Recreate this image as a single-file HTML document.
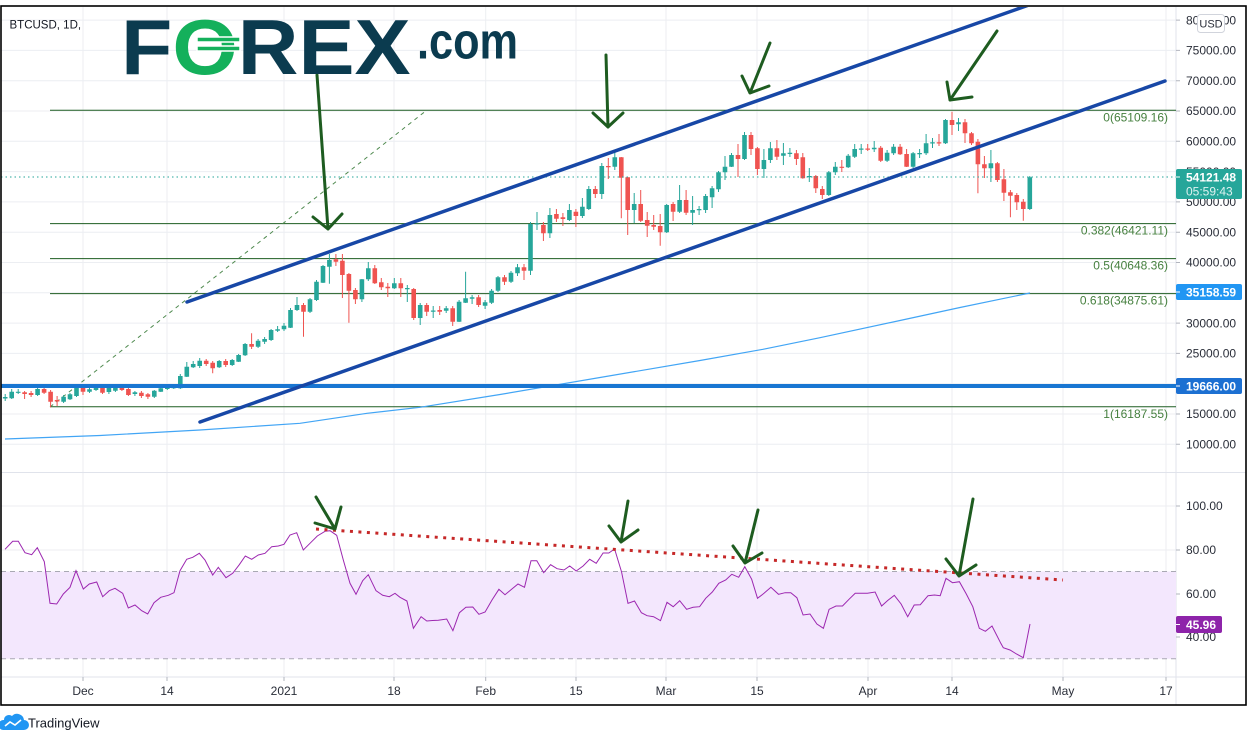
<!DOCTYPE html>
<html><head><meta charset="utf-8"><style>
html,body{margin:0;padding:0;background:#fff;}
svg{display:block;font-family:"Liberation Sans",sans-serif;}
</style></head><body>
<svg width="1253" height="742" viewBox="0 0 1253 742" xmlns="http://www.w3.org/2000/svg">
<defs><clipPath id="mp"><rect x="1" y="7" width="1175" height="465"/></clipPath>
<clipPath id="rp"><rect x="1" y="473" width="1175" height="204"/></clipPath></defs>
<rect width="1253" height="742" fill="#fff"/>
<g stroke="#eceef2" stroke-width="1">
<path d="M83,7V677M167,7V677M284,7V677M394,7V677M485.7,7V677M576,7V677M666,7V677M757,7V677M868,7V677M952,7V677M1063,7V677M1166,7V677"/>
<path d="M1,20.1H1176M1,50.4H1176M1,80.7H1176M1,111H1176M1,141.3H1176M1,171.6H1176M1,201.9H1176M1,232.2H1176M1,262.5H1176M1,292.8H1176M1,323.1H1176M1,353.4H1176M1,383.7H1176M1,414H1176M1,444.3H1176"/>
<path d="M1,506H1176M1,550H1176M1,594H1176M1,637H1176"/>
</g>
<g stroke="#e0e3eb" stroke-width="1">
<path d="M1,472.5H1246M1,677H1246M1176,7V705"/>
</g>
<rect x="1" y="571.5" width="1175" height="87.3" fill="#f3e7fd"/>
<path d="M1,571.5H1176M1,658.8H1176" stroke="#a9a9b3" stroke-width="1" stroke-dasharray="5,4"/>

<g clip-path="url(#mp)">
<g stroke="#1f5e22" stroke-width="1">
<path d="M50,110.3H1176M50,223.6H1176M50,258.6H1176M50,293.6H1176M50,406.8H1176"/>
</g>
<path d="M50,407L427,110" stroke="#4f8a4f" stroke-width="1" stroke-dasharray="4,4" fill="none"/>
<polyline points="5,439 100,435.5 200,430 300,423.3 367,413.3 420,407.3 500,394.5 600,377.5 700,360.5 763,349.3 820,337.7 900,320.5 960,307.5 1030,293" fill="none" stroke="#42a5f5" stroke-width="1.2"/>
<!-- candle wicks -->
<path stroke="#26a69a" stroke-width="1" fill="none" d="M5.2,394V401M11.7,389V399M18.2,389V394M37.6,388V396M63.6,395V403M70,393V400M76.5,384V397M89.5,388V393M96,385V391M108.9,386V394M115.4,386V392M134.9,391V396M154.3,390V398M160.8,388V392M167.3,386V390M173.8,385V389M180.3,374V389M186.8,362V377M193.2,361V368M199.7,358V368M219.2,360V368M232.2,359V366M238.6,354V362M245.1,343V356M258.1,339V348M264.6,337V344M271.1,329V341M277.6,326V332M284,323V331M290.5,308V328M297,297V311M310,298V313M316.5,280V301M323,265V283M329.4,254V283.7M361.9,279V302M368.3,262V281M394.3,278V289M407.3,285V302M420.2,303V325M433.2,306V318M446.2,306V313M459.1,300V322M465.6,271.7V303M472.1,295V304M485.1,300V309M491.6,289V304M498,276V292M511,271V283M517.5,264V276M530.5,222V275M537,212V230M549.9,208V238M569.4,204V221M582.4,198V218M588.8,186V210M601.8,163V199M614.8,152V170M634.2,193V223M666.7,204V233M679.6,185V213M692.6,196V225M699.1,206V215M705.6,194V213M712.1,186V208M718.5,171V192M725,156V180M731.5,153V167M744.5,132V160M763.9,149V178M770.4,142V163M783.4,143V165M789.9,148V157M809.3,168V182M828.8,171V196M835.3,162V175M848.2,154V168M854.7,144V158M861.2,144V154M874.2,141V152M887.1,150V162M893.6,144V155M913.1,152V168M919.6,149V158M926.1,134V155M932.5,138V148M945.5,119V144M958.5,118V131M990.9,150V182M1029.8,176V210"/>
<path stroke="#ef5350" stroke-width="1" fill="none" d="M24.6,391V399M31.1,391V397M44.1,387.5V394M50.6,390V407.3M57.1,396V406M83,384V395M102.5,386V394M121.9,386V391M128.4,387V396M141.4,391V398M147.9,393V399M206.2,359V366M212.7,361V373.3M225.7,359V367M251.6,333.3V349M303.5,303V336.7M335.9,254V266M342.4,254V298M348.9,273V322.7M355.4,288V304M374.8,265V284M381.3,278V290M387.8,283V297M400.8,278V297M413.7,288V320M426.7,303V316M439.7,306V315M452.7,306V326M478.6,295V307M504.5,275V285M524,264V280M543.4,222V241M556.4,209V222M562.9,213V226M575.9,209V227M595.3,186V198M608.3,158V179M621.3,157V218.3M627.7,177V235M640.7,190V222M647.2,212V237M653.7,215V230M660.2,214V245.7M673.1,202V221M686.1,190V215M738,144V177M751,132V155M757.4,147V175M776.9,140V160M796.4,150V165M802.8,153V178.7M815.8,175V193M822.3,186V199M841.8,160V172M867.7,144V151M880.7,146V162M900.1,144V155M906.6,149V167M939,134V146M952,111.7V135M965,119V143M971.5,132V145M977.9,139V193.3M984.4,156V178M997.4,162V182M1003.9,169V201M1010.4,190V217.3M1016.8,193V210M1023.3,199V220.7"/>
<!-- candle bodies -->
<path fill="#26a69a" d="M5.2,397m-2.3,0h4.6v1.5h-4.6zM11.7,391.7m-2.3,0h4.6v6.6h-4.6zM18.2,391.7m-2.3,0h4.6v1.2h-4.6zM37.6,389m-2.3,0h4.6v6h-4.6zM63.6,396.7m-2.3,0h4.6v5h-4.6zM70,394.3m-2.3,0h4.6v5h-4.6zM76.5,386m-2.3,0h4.6v10h-4.6zM89.5,389.3m-2.3,0h4.6v2.4h-4.6zM96,386.7m-2.3,0h4.6v3.3h-4.6zM108.9,388m-2.3,0h4.6v4h-4.6zM115.4,387.3m-2.3,0h4.6v3.4h-4.6zM134.9,392.3m-2.3,0h4.6v1.7h-4.6zM154.3,390.7m-2.3,0h4.6v6h-4.6zM160.8,388.3m-2.3,0h4.6v3.4h-4.6zM167.3,387.7m-2.3,0h4.6v1.3h-4.6zM173.8,386.7m-2.3,0h4.6v1.6h-4.6zM180.3,376m-2.3,0h4.6v12.3h-4.6zM186.8,366.7m-2.3,0h4.6v10h-4.6zM193.2,364m-2.3,0h4.6v3.3h-4.6zM199.7,360.7m-2.3,0h4.6v5.3h-4.6zM219.2,361m-2.3,0h4.6v6.3h-4.6zM232.2,360m-2.3,0h4.6v5h-4.6zM238.6,355m-2.3,0h4.6v6.7h-4.6zM245.1,344m-2.3,0h4.6v11.3h-4.6zM258.1,340.7m-2.3,0h4.6v6h-4.6zM264.6,339m-2.3,0h4.6v2.7h-4.6zM271.1,330m-2.3,0h4.6v10h-4.6zM277.6,329.3m-2.3,0h4.6v1.4h-4.6zM284,325.7m-2.3,0h4.6v3.6h-4.6zM290.5,310m-2.3,0h4.6v17.7h-4.6zM297,305m-2.3,0h4.6v5h-4.6zM310,299.3m-2.3,0h4.6v12.4h-4.6zM316.5,281.7m-2.3,0h4.6v18.3h-4.6zM323,266m-2.3,0h4.6v16.7h-4.6zM329.4,260m-2.3,0h4.6v6.7h-4.6zM361.9,279.3m-2.3,0h4.6v20h-4.6zM368.3,268.3m-2.3,0h4.6v11h-4.6zM394.3,283.3m-2.3,0h4.6v5h-4.6zM407.3,288m-2.3,0h4.6v1.2h-4.6zM420.2,305m-2.3,0h4.6v13h-4.6zM433.2,310.5m-2.3,0h4.6v1.2h-4.6zM446.2,308.3m-2.3,0h4.6v2.4h-4.6zM459.1,301.7m-2.3,0h4.6v20h-4.6zM465.6,298.3m-2.3,0h4.6v4.4h-4.6zM472.1,297.3m-2.3,0h4.6v1.4h-4.6zM485.1,302.3m-2.3,0h4.6v3.4h-4.6zM491.6,290.7m-2.3,0h4.6v12h-4.6zM498,277.3m-2.3,0h4.6v13.4h-4.6zM511,272.7m-2.3,0h4.6v9h-4.6zM517.5,267.3m-2.3,0h4.6v6h-4.6zM530.5,224m-2.3,0h4.6v46.7h-4.6zM537,223.3m-2.3,0h4.6v1.2h-4.6zM549.9,215m-2.3,0h4.6v18.3h-4.6zM569.4,210m-2.3,0h4.6v10h-4.6zM582.4,206.7m-2.3,0h4.6v9.3h-4.6zM588.8,189m-2.3,0h4.6v20h-4.6zM601.8,166m-2.3,0h4.6v28h-4.6zM614.8,157.3m-2.3,0h4.6v9.4h-4.6zM634.2,204m-2.3,0h4.6v6h-4.6zM666.7,205m-2.3,0h4.6v27.3h-4.6zM679.6,200m-2.3,0h4.6v11.7h-4.6zM692.6,210m-2.3,0h4.6v2.7h-4.6zM699.1,209m-2.3,0h4.6v1.2h-4.6zM705.6,196m-2.3,0h4.6v14h-4.6zM712.1,188.3m-2.3,0h4.6v9h-4.6zM718.5,172.3m-2.3,0h4.6v17h-4.6zM725,166.7m-2.3,0h4.6v5.6h-4.6zM731.5,155m-2.3,0h4.6v11.7h-4.6zM744.5,135m-2.3,0h4.6v24h-4.6zM763.9,160m-2.3,0h4.6v9h-4.6zM770.4,148.3m-2.3,0h4.6v11.7h-4.6zM783.4,153.3m-2.3,0h4.6v2.4h-4.6zM789.9,152.7m-2.3,0h4.6v1.3h-4.6zM809.3,176m-2.3,0h4.6v1.3h-4.6zM828.8,172.3m-2.3,0h4.6v22.7h-4.6zM835.3,166.7m-2.3,0h4.6v5.6h-4.6zM848.2,155.7m-2.3,0h4.6v11.6h-4.6zM854.7,149m-2.3,0h4.6v7.7h-4.6zM861.2,148.5m-2.3,0h4.6v1.2h-4.6zM874.2,147.7m-2.3,0h4.6v1.6h-4.6zM887.1,152.7m-2.3,0h4.6v8h-4.6zM893.6,146.7m-2.3,0h4.6v6.6h-4.6zM913.1,153.3m-2.3,0h4.6v13.4h-4.6zM919.6,153m-2.3,0h4.6v1.2h-4.6zM926.1,143.3m-2.3,0h4.6v10h-4.6zM932.5,142.3m-2.3,0h4.6v1.2h-4.6zM945.5,120m-2.3,0h4.6v23.3h-4.6zM958.5,122.3m-2.3,0h4.6v2h-4.6zM990.9,163.3m-2.3,0h4.6v5h-4.6zM1029.8,177.3m-2.3,0h4.6v31.7h-4.6z"/>
<path fill="#ef5350" d="M24.6,392.3m-2.3,0h4.6v1.7h-4.6zM31.1,393m-2.3,0h4.6v2h-4.6zM44.1,389m-2.3,0h4.6v3.7h-4.6zM50.6,391.7m-2.3,0h4.6v10h-4.6zM57.1,400m-2.3,0h4.6v1.5h-4.6zM83,386m-2.3,0h4.6v5.7h-4.6zM102.5,387.3m-2.3,0h4.6v5.4h-4.6zM121.9,387.7m-2.3,0h4.6v2.3h-4.6zM128.4,389m-2.3,0h4.6v6h-4.6zM141.4,392.7m-2.3,0h4.6v3.3h-4.6zM147.9,394.3m-2.3,0h4.6v2.4h-4.6zM206.2,360.7m-2.3,0h4.6v3.3h-4.6zM212.7,362.7m-2.3,0h4.6v5.6h-4.6zM225.7,361m-2.3,0h4.6v4h-4.6zM251.6,344m-2.3,0h4.6v2.7h-4.6zM303.5,305m-2.3,0h4.6v6.7h-4.6zM335.9,259.3m-2.3,0h4.6v2.4h-4.6zM342.4,260.7m-2.3,0h4.6v14.3h-4.6zM348.9,274m-2.3,0h4.6v16.7h-4.6zM355.4,290m-2.3,0h4.6v9.3h-4.6zM374.8,268.3m-2.3,0h4.6v15h-4.6zM381.3,282.3m-2.3,0h4.6v5h-4.6zM387.8,286.7m-2.3,0h4.6v1.6h-4.6zM400.8,283.3m-2.3,0h4.6v5h-4.6zM413.7,289m-2.3,0h4.6v29h-4.6zM426.7,305m-2.3,0h4.6v6.7h-4.6zM439.7,310m-2.3,0h4.6v1.7h-4.6zM452.7,308.3m-2.3,0h4.6v13.4h-4.6zM478.6,297.3m-2.3,0h4.6v7.7h-4.6zM504.5,277.3m-2.3,0h4.6v4.4h-4.6zM524,267.3m-2.3,0h4.6v3.4h-4.6zM543.4,225m-2.3,0h4.6v8.3h-4.6zM556.4,214m-2.3,0h4.6v4.7h-4.6zM562.9,217.3m-2.3,0h4.6v1.7h-4.6zM575.9,211.7m-2.3,0h4.6v4.3h-4.6zM595.3,189m-2.3,0h4.6v5h-4.6zM608.3,166m-2.3,0h4.6v1.2h-4.6zM621.3,157.3m-2.3,0h4.6v20.4h-4.6zM627.7,177.3m-2.3,0h4.6v32.7h-4.6zM640.7,204m-2.3,0h4.6v16.7h-4.6zM647.2,220m-2.3,0h4.6v5.7h-4.6zM653.7,225m-2.3,0h4.6v1.7h-4.6zM660.2,226m-2.3,0h4.6v6.3h-4.6zM673.1,204m-2.3,0h4.6v7.7h-4.6zM686.1,200m-2.3,0h4.6v12.7h-4.6zM738,155m-2.3,0h4.6v4h-4.6zM751,135m-2.3,0h4.6v14h-4.6zM757.4,148.3m-2.3,0h4.6v20.7h-4.6zM776.9,148.3m-2.3,0h4.6v8.4h-4.6zM796.4,153.3m-2.3,0h4.6v5.7h-4.6zM802.8,157.3m-2.3,0h4.6v21h-4.6zM815.8,176m-2.3,0h4.6v12.3h-4.6zM822.3,189m-2.3,0h4.6v6h-4.6zM841.8,166.7m-2.3,0h4.6v1.2h-4.6zM867.7,148.5m-2.3,0h4.6v1.2h-4.6zM880.7,147.7m-2.3,0h4.6v13h-4.6zM900.1,146.7m-2.3,0h4.6v7.6h-4.6zM906.6,154m-2.3,0h4.6v12.7h-4.6zM939,142.3m-2.3,0h4.6v1.2h-4.6zM952,120m-2.3,0h4.6v5h-4.6zM965,122.3m-2.3,0h4.6v11h-4.6zM971.5,133.3m-2.3,0h4.6v10h-4.6zM977.9,141.7m-2.3,0h4.6v22.6h-4.6zM984.4,164.3m-2.3,0h4.6v4h-4.6zM997.4,163.3m-2.3,0h4.6v16.7h-4.6zM1003.9,179.3m-2.3,0h4.6v13.4h-4.6zM1010.4,192.3m-2.3,0h4.6v3.4h-4.6zM1016.8,195m-2.3,0h4.6v7.3h-4.6zM1023.3,201.7m-2.3,0h4.6v7.3h-4.6z"/>
<path d="M1,177H1176" stroke="#26a69a" stroke-width="1" stroke-dasharray="1.5,3"/>
<path d="M1,386H1176" stroke="#1976d2" stroke-width="4"/>
<g stroke="#1747a6" stroke-width="3.5" stroke-linecap="round">
<path d="M187,302L1060,-6"/>
<path d="M200,422L1165,81"/>
</g>
<g stroke="#1e5c20" stroke-width="3" fill="none" stroke-linecap="round" stroke-linejoin="round">
<path d="M317,75L328,229M313,217L328,229L342,214"/>
<path d="M606,55L608,127M593,113L608,127L623,113"/>
<path d="M770,43L750,93M742,76L750,93L769,86"/>
<path d="M997,31L950,100M947,82L950,100L972,97"/>
</g>
</g>

<g font-size="12" fill="#46803f" text-anchor="end">
<text x="1168" y="121.5">0(65109.16)</text>
<text x="1168" y="234.6">0.382(46421.11)</text>
<text x="1168" y="269.6">0.5(40648.36)</text>
<text x="1168" y="304.6">0.618(34875.61)</text>
<text x="1168" y="417.8">1(16187.55)</text>
</g>

<g clip-path="url(#rp)">
<polyline fill="none" stroke="#9c27b0" stroke-width="1" points="5,549.3 12.7,541.3 18.3,541.3 25,552.7 31.7,554.7 37.3,547.7 44.3,561.7 50,603.3 56.7,604 63.3,594 70,587.3 76,570.7 83.3,589 89.3,584 96.7,582 102.7,596.7 109.3,590.7 115,588.3 122.7,593.3 128.3,608 135,605 141.7,610.7 147.7,614 154,602.7 160.7,597.3 168.3,595.3 174,592.7 180,570.7 186.7,559.3 192.7,557.3 199.3,553.3 205,560 212.7,575 218.3,567.3 226,577.7 232.7,573.3 239.3,564.7 245.3,556 251.7,559.3 258.3,555 265,553.3 271.7,546.7 278.3,546 284,544.3 290,535 296.7,532.7 303.3,550 310,543.3 317.3,536 325,531.3 330,530.7 336.7,535.3 343.3,560 350,583.3 356,594.3 362.7,580.7 368.3,574.7 376,590.7 382.7,595.3 389.3,596.7 395,593.3 400,597.3 406.9,601 413.4,628.3 421.1,616.7 426.8,621 432.5,620.5 438.3,620.3 446.7,619 452.9,630.7 459.4,612.7 465.9,607.3 472.8,607 478.9,614.3 485.1,612 492,600 498.9,589.3 505,594.7 511.9,589 518,584 524.5,587.3 531,560.7 536.8,560.7 543.7,572.7 550.6,564.7 557.1,568.7 564,570 569.7,566 576.2,571 583.1,566 589.7,559.3 596.2,563.3 603.1,553 608.8,553 614.6,549 621.5,571.7 628,603.3 634.5,601 641.4,612.7 647.1,615.7 653.6,616.7 660.5,620.7 667,602.3 673.2,606.7 679.7,600.7 686.6,609.3 693.1,607.3 699.6,606.7 705.7,598.3 712.3,592 718.8,583.3 725.7,580 731.8,574.3 738.7,577.3 744.8,566.7 751.7,579.3 757.5,598.3 764,593.3 770.9,587.3 778.5,594.3 785.1,592.7 790.8,592.7 796.9,597.7 803.1,615 810,614 816.9,624 823.4,628.3 829.1,609.3 836,606 842.5,606 849,599.3 855.2,593.3 861.7,593.3 867.4,593.3 875.1,592 881.6,606 887.4,600.7 894.3,595.3 901.1,604 907.7,616.7 914.2,605 920.3,604.7 928,595.7 934.5,595 940.2,595.7 946,578.3 952.5,582.7 959.4,581.7 966.3,594 972.8,606.7 979.3,628.3 985.4,631.3 992,626 1000.8,643.3 1003.3,647.7 1010,650 1016.5,654 1023.3,657.7 1030,624"/>
<path d="M316,529L1063,580" stroke="#c62828" stroke-width="3" stroke-dasharray="3,5.5"/>
<g stroke="#1e5c20" stroke-width="3" fill="none" stroke-linecap="round" stroke-linejoin="round">
<path d="M316,497L335,529M315,523L335,529L341,507"/>
<path d="M628,501L621,542M609,526L621,542L638,530"/>
<path d="M758,510L745,563M733,546L745,563L762,553"/>
<path d="M973,499L959,576M946,559L959,576L976,565"/>
</g>
</g>

<g stroke="#b2b5be" stroke-width="1">
<path d="M1176,20.1h4M1176,50.4h4M1176,80.7h4M1176,111h4M1176,141.3h4M1176,171.6h4M1176,201.9h4M1176,232.2h4M1176,262.5h4M1176,292.8h4M1176,323.1h4M1176,353.4h4M1176,383.7h4M1176,414h4M1176,444.3h4M1176,506h4M1176,550h4M1176,594h4M1176,637h4"/>
<path d="M83,677v4M167,677v4M284,677v4M394,677v4M485.7,677v4M576,677v4M666,677v4M757,677v4M868,677v4M952,677v4M1063,677v4M1166,677v4"/>
</g>
<g font-size="12" fill="#2a2e39">
<text x="1186" y="24.3">80000.00</text>
<text x="1186" y="54.6">75000.00</text>
<text x="1186" y="84.9">70000.00</text>
<text x="1186" y="115.2">65000.00</text>
<text x="1186" y="145.5">60000.00</text>
<text x="1186" y="175.8">55000.00</text>
<text x="1186" y="206.1">50000.00</text>
<text x="1186" y="236.4">45000.00</text>
<text x="1186" y="266.7">40000.00</text>
<text x="1186" y="327.3">30000.00</text>
<text x="1186" y="357.6">25000.00</text>
<text x="1186" y="418.2">15000.00</text>
<text x="1186" y="448.5">10000.00</text>
<text x="1186" y="510.2">100.00</text>
<text x="1186" y="554.2">80.00</text>
<text x="1186" y="598.2">60.00</text>
<text x="1186" y="641.2">40.00</text>
</g>
<rect x="1197.5" y="14.5" width="27" height="18" rx="3" fill="#fff" stroke="#d1d4dc"/>
<text x="1211" y="27.5" font-size="11" fill="#2a2e39" text-anchor="middle">USD</text>
<rect x="1176" y="169" width="66" height="30" rx="2" fill="#26a69a"/>
<path d="M1176,177h4" stroke="#fff" stroke-width="1"/>
<text x="1186" y="181.5" font-size="12" font-weight="bold" fill="#fff">54121.48</text>
<text x="1186" y="195.5" font-size="12" fill="#fff" fill-opacity="0.85">05:59:43</text>
<rect x="1176" y="284" width="66" height="16" rx="2" fill="#2196f3"/>
<path d="M1176,292h4" stroke="#fff" stroke-width="1"/>
<text x="1186" y="296.5" font-size="12" font-weight="bold" fill="#fff">35158.59</text>
<rect x="1176" y="378" width="66" height="16" rx="2" fill="#1c70d2"/>
<path d="M1176,386h4" stroke="#fff" stroke-width="1"/>
<text x="1186" y="390.5" font-size="12" font-weight="bold" fill="#fff">19666.00</text>
<rect x="1176" y="616" width="46" height="17" rx="2" fill="#8e24aa"/>
<path d="M1176,624.5h4" stroke="#fff" stroke-width="1"/>
<text x="1186" y="629" font-size="12" font-weight="bold" fill="#fff">45.96</text>

<g font-size="12" fill="#2a2e39" text-anchor="middle">
<text x="83" y="695">Dec</text>
<text x="167" y="695">14</text>
<text x="284" y="695">2021</text>
<text x="394" y="695">18</text>
<text x="485.7" y="695">Feb</text>
<text x="576" y="695">15</text>
<text x="666" y="695">Mar</text>
<text x="757" y="695">15</text>
<text x="868" y="695">Apr</text>
<text x="952" y="695">14</text>
<text x="1063" y="695">May</text>
<text x="1166" y="695">17</text>
</g>

<text x="9.5" y="28.5" font-size="11.5" fill="#131722">BTCUSD, 1D,</text>
<g transform="translate(121,74) scale(1.078,1)">
<text x="0" y="0" font-size="78" font-weight="bold" fill="#0b3b4f">F<tspan fill="#14b05b">O</tspan>REX</text>
</g>
<g fill="#14b05b" stroke="#fff" stroke-width="1.5">
<rect x="197" y="37" width="43" height="5"/>
<rect x="197" y="46" width="43" height="5"/>
</g>
<g transform="translate(417,58.3) scale(0.849,1)">
<text x="0" y="0" font-size="51" font-weight="bold" fill="#0b3b4f">.com</text>
</g>

<rect x="1" y="6" width="1245" height="699" fill="none" stroke="#000" stroke-width="1.6"/>

<path d="M3,730H24a5,5 0 0 0 0-10a7,7 0 0 0-12-4a5,5 0 0 0-8,4a5,5 0 0 0-1,10z" fill="#2196f3"/>
<path d="M5,726l5-4l5,3l6-5" stroke="#fff" stroke-width="1.6" fill="none"/>
<text x="28" y="727.5" font-size="13" fill="#131722">TradingView</text>
</svg>
</body></html>
